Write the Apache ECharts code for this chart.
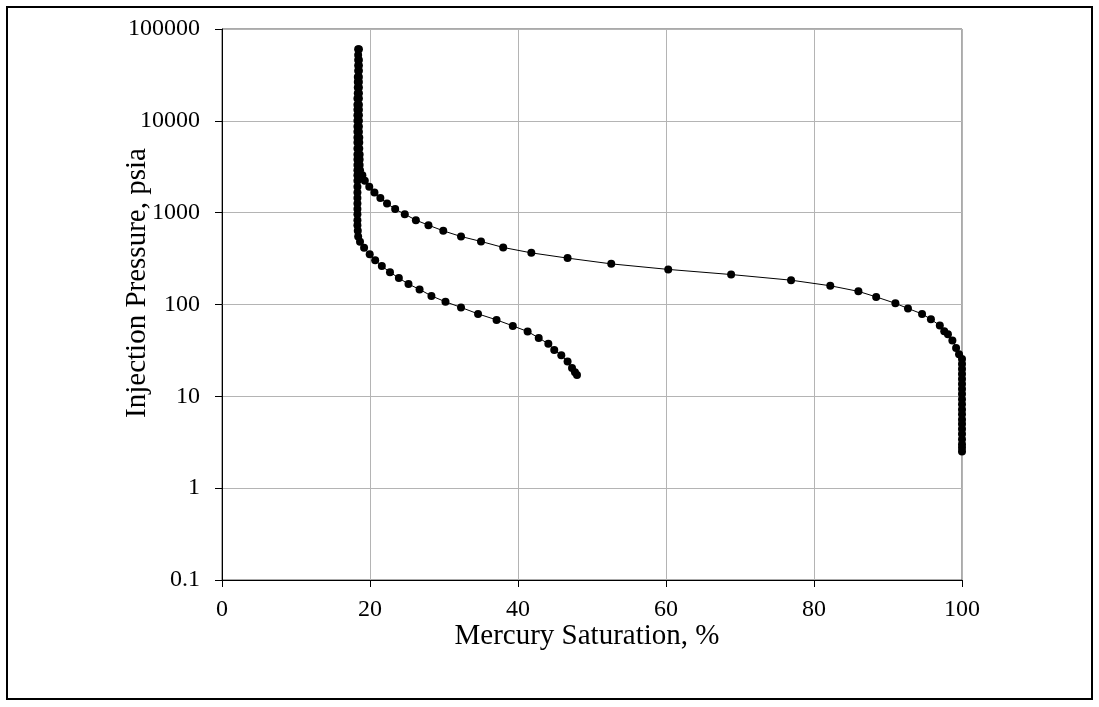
<!DOCTYPE html>
<html>
<head>
<meta charset="utf-8">
<script src="https://cdn.jsdelivr.net/npm/echarts@6/dist/echarts.min.js"></script>
<style>
  html, body { margin: 0; padding: 0; background: #fff; }
  #chart { width: 1099px; height: 707px; }
</style>
</head>
<body>
<div id="chart"></div>
<script>
// Mercury injection (drainage) curve: saturation %, pressure psia
const injectionSat = [
  100, 100, 100, 100, 100, 100, 100, 100, 100, 100,
  100, 100, 100, 100, 100, 100, 100, 100, 100, 100,
  99.6, 99.2, 98.7, 98.1, 97.6, 97.0, 95.8, 94.6, 92.7, 91.0,
  88.4, 86.0, 82.2, 76.9, 68.8, 60.3, 52.6, 46.7, 41.8, 38.0,
  35.0, 32.3, 29.9, 27.9, 26.2, 24.7, 23.4, 22.3, 21.4, 20.6,
  19.9, 19.3, 18.97, 18.65, 18.6, 18.6, 18.6, 18.55, 18.55, 18.55,
  18.5, 18.5, 18.5, 18.5, 18.5, 18.5, 18.5, 18.5, 18.5, 18.5,
  18.5, 18.5, 18.5, 18.5, 18.5
];
const injectionPc = [
  2.5, 2.75, 3.0, 3.4, 3.9, 4.4, 5.0, 5.6, 6.4, 7.2,
  8.2, 9.3, 10.6, 12, 13.6, 15.4, 17.5, 19.8, 22.5, 25.5,
  28.8, 33.7, 40.5, 47.5, 51, 59, 69, 79, 90.5, 103,
  121, 139, 160, 184, 212, 241, 277, 320, 365, 418,
  486, 550, 634, 731, 829, 963, 1093, 1259, 1449, 1660,
  1910, 2220, 2560, 2900, 3300, 3800, 4300, 5000, 5800, 6600,
  7600, 8700, 10000, 11500, 13200, 15000, 17500, 20000, 23000, 26500,
  30000, 35000, 40000, 46000, 60000
];

// Withdrawal curve: saturation %, pressure psia
const withdrawalSat = [
  18.4, 18.4, 18.4, 18.4, 18.4, 18.35, 18.35, 18.35, 18.35, 18.3,
  18.3, 18.3, 18.3, 18.3, 18.3, 18.3, 18.3, 18.3, 18.3, 18.3,
  18.3, 18.3, 18.3, 18.3, 18.3, 18.3, 18.3, 18.3, 18.3, 18.3,
  18.3, 18.3, 18.3, 18.35, 18.4,
  18.65, 19.2, 19.96, 20.7, 21.6, 22.7, 23.9, 25.2, 26.7, 28.3,
  30.2, 32.3, 34.6, 37.1, 39.3, 41.3, 42.8, 44.1, 44.9, 45.85,
  46.7, 47.3, 47.7, 47.97
];
const withdrawalPc = [
  60000, 52000, 46000, 40000, 35000, 30000, 26500, 23000, 20000, 17500,
  15000, 13200, 11500, 10000, 8700, 7600, 6600, 5800, 5000, 4300,
  3800, 3300, 2900, 2560, 2220, 1910, 1660, 1449, 1259, 1093,
  963, 829, 731, 634, 550,
  481, 414, 353, 304, 262, 225, 194, 167, 146, 124,
  107, 93, 79, 68, 58.5, 50.8, 43.3, 37.3, 32, 28,
  24, 20.3, 18.3, 17.1
];

const xTitle = 'Mercury Saturation, %';
const yTitle = 'Injection Pressure, psia';

const pairs = (xs, ys) => xs.map((x, i) => [x, ys[i]]);

const FONT = '"Liberation Serif", "Times New Roman", serif';
const TITLE_FONT = '29px ' + FONT;

const chart = echarts.init(document.getElementById('chart'), null, { renderer: 'canvas' });

const markerSeries = (name, data) => ({
  name: name,
  type: 'line',
  data: data,
  symbol: 'circle',
  symbolSize: 8,
  showAllSymbol: true,
  lineStyle: { color: '#000', width: 1 },
  itemStyle: { color: '#000' },
  animation: false,
  z: 3
});

chart.setOption({
  animation: false,
  backgroundColor: '#fff',
  graphic: [
    {
      // outer frame
      type: 'rect',
      shape: { x: 7, y: 7, width: 1085, height: 692 },
      style: { fill: 'none', stroke: '#000', lineWidth: 2 },
      silent: true
    },
    {
      // x-axis title
      type: 'text',
      x: 587, y: 636,
      style: { text: xTitle, font: TITLE_FONT, fill: '#000', align: 'center', verticalAlign: 'middle' },
      silent: true
    },
    {
      // y-axis title, rotated to read bottom-to-top
      type: 'text',
      x: 137, y: 283,
      rotation: Math.PI / 2,
      style: { text: yTitle, font: TITLE_FONT, fill: '#000', align: 'center', verticalAlign: 'middle' },
      silent: true
    }
  ],
  grid: {
    left: 222, top: 29, right: 137, bottom: 127,
    show: true, borderColor: '#555', borderWidth: 1
  },
  xAxis: {
    type: 'value',
    min: 0, max: 100, interval: 20,
    axisLine: { show: true, onZero: false, lineStyle: { color: '#000', width: 1 } },
    axisTick: { show: true, inside: false, length: 7, lineStyle: { color: '#000' } },
    axisLabel: { fontFamily: FONT, fontSize: 24, color: '#000', margin: 18 },
    splitLine: { show: true, lineStyle: { color: '#b4b4b4', width: 1 } }
  },
  yAxis: {
    type: 'log',
    logBase: 10,
    min: 0.1, max: 100000,
    axisLine: { show: true, lineStyle: { color: '#000', width: 1 } },
    axisTick: { show: true, inside: false, length: 7, lineStyle: { color: '#000' } },
    axisLabel: {
      fontFamily: FONT, fontSize: 24, color: '#000', margin: 22,
      formatter: v => String(Number(v.toPrecision(6)))
    },
    splitLine: { show: true, lineStyle: { color: '#b4b4b4', width: 1 } },
    minorTick: { show: false }
  },
  series: [
    markerSeries('Injection', pairs(injectionSat, injectionPc)),
    markerSeries('Withdrawal', pairs(withdrawalSat, withdrawalPc))
  ]
});
</script>
</body>
</html>
